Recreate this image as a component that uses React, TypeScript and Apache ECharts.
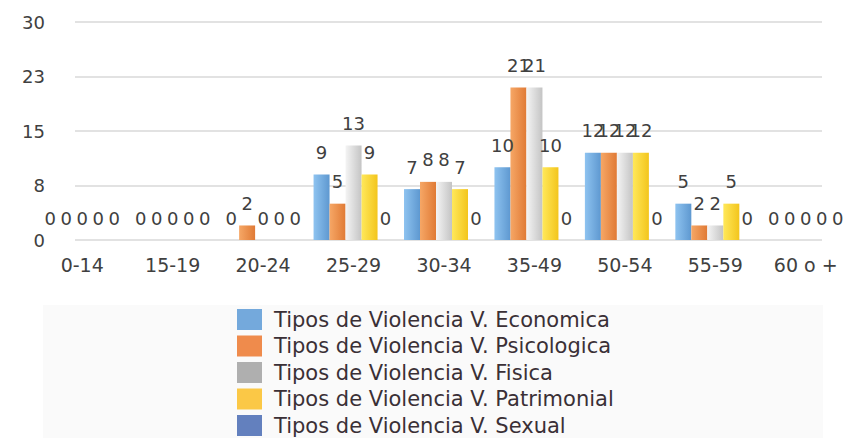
import React, { useEffect, useRef } from "react";
import * as echarts from "echarts";

const categories = ["0-14", "15-19", "20-24", "25-29", "30-34", "35-49", "50-54", "55-59", "60 o +"];
const seriesNames = [
  "Tipos de Violencia V. Economica",
  "Tipos de Violencia V. Psicologica",
  "Tipos de Violencia V. Fisica",
  "Tipos de Violencia V. Patrimonial",
  "Tipos de Violencia V. Sexual",
];
const economica = [0, 0, 0, 9, 7, 10, 12, 5, 0];
const psicologica = [0, 0, 2, 5, 8, 21, 12, 2, 0];
const fisica = [0, 0, 0, 13, 8, 21, 12, 2, 0];
const patrimonial = [0, 0, 0, 9, 7, 10, 12, 5, 0];
const sexual = [0, 0, 0, 0, 0, 0, 0, 0, 0];
const seriesValues = [economica, psicologica, fisica, patrimonial, sexual];

const legendColors = ["#74A9DC", "#EF8B4C", "#AFAFAF", "#FBC846", "#6380BE"];
const barGradients: [string, string][] = [
  ["#8EC3F0", "#5E98D0"],
  ["#F6A766", "#E07A35"],
  ["#F4F4F4", "#C4C4C4"],
  ["#FFE85A", "#F3C51C"],
  ["#7C98D4", "#4E68A8"],
];

const FONT = "DejaVu Sans";

export default function App() {
  const ref = useRef<HTMLDivElement>(null);
  useEffect(() => {
    if (!ref.current) return;
    const chart = echarts.init(ref.current, null, { renderer: "svg" });
    const option: any = {
      animation: false,
      backgroundColor: "#ffffff",
      textStyle: { fontFamily: FONT },
      graphic: [
        {
          type: "rect",
          left: 43,
          top: 305,
          shape: { width: 780, height: 133 },
          style: { fill: "#FAFAFA" },
          z: -10,
        },
      ],
      legend: {
        orient: "vertical",
        left: 237,
        top: 309,
        height: 135,
        padding: 0,
        itemWidth: 25,
        itemHeight: 21,
        itemGap: 5.5,
        icon: "rect",
        data: seriesNames.map((n, i) => ({ name: n, itemStyle: { color: legendColors[i] } })),
        textStyle: {
          fontFamily: FONT,
          fontSize: 21,
          lineHeight: 21,
          color: "#3a3036",
          padding: [0, 0, 0, 7],
        },
      },
      grid: [
        { left: 37, right: 5, top: 22, bottom: 200, containLabel: false },
        { left: 75, right: 34, top: 22, bottom: 200, containLabel: false },
      ],
      xAxis: [
        {
          type: "category",
          gridIndex: 0,
          data: categories,
          axisLine: { show: false },
          axisTick: { show: false },
          axisLabel: { fontFamily: FONT, fontSize: 19, color: "#404040", margin: 15 },
        },
        { type: "value", gridIndex: 1, show: false, min: 0, max: 1 },
      ],
      yAxis: [
        { type: "value", gridIndex: 0, min: 0, max: 30, interval: 7.5, show: false },
        {
          type: "value",
          gridIndex: 1,
          min: 0,
          max: 30,
          interval: 7.5,
          axisLine: { show: false },
          axisTick: { show: false },
          splitLine: { lineStyle: { color: "#E2E2E2", width: 2 } },
          axisLabel: {
            fontFamily: FONT,
            fontSize: 18,
            color: "#404040",
            margin: 30,
            formatter: (v: number) => String(Math.round(v)),
          },
        },
      ],
      series: seriesValues.map((vals, i) => ({
        name: seriesNames[i],
        type: "bar",
        xAxisIndex: 0,
        yAxisIndex: 0,
        data: vals,
        barWidth: 16,
        barGap: "0%",
        itemStyle: {
          color: new echarts.graphic.LinearGradient(0, 0, 1, 0, [
            { offset: 0, color: barGradients[i][0] },
            { offset: 1, color: barGradients[i][1] },
          ]),
        },
        label: {
          show: true,
          position: "top",
          distance: 13,
          fontFamily: FONT,
          fontSize: 18,
          color: "#404040",
        },
      })),
    };
    chart.setOption(option);
    return () => chart.dispose();
  }, []);
  return (
    <div
      ref={ref}
      style={{ position: "fixed", left: 0, top: 0, width: 856, height: 440 }}
    />
  );
}
